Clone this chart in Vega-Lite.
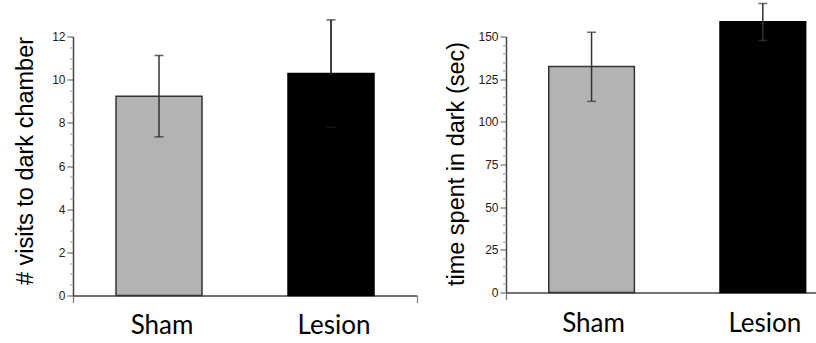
{
  "$schema": "https://vega.github.io/schema/vega-lite/v6.json",
  "background": "white",
  "padding": {"left": 12, "top": 2.5, "right": 0, "bottom": 0},
  "config": {"view": {"stroke": null}},
  "spacing": 25,
  "datasets": {
    "visits": [
      {"group": "Sham", "mean": 9.23, "lo": 7.35, "hi": 11.12},
      {"group": "Lesion", "mean": 10.28, "lo": 7.79, "hi": 12.77}
    ],
    "time": [
      {"group": "Sham", "mean": 132.4, "lo": 112.0, "hi": 152.5},
      {"group": "Lesion", "mean": 158.6, "lo": 147.6, "hi": 169.3}
    ]
  },
  "hconcat": [
    {
      "data": {"name": "visits"},
      "width": 344,
      "height": 259,
      "resolve": {"scale": {"x": "independent"}, "axis": {"y": "independent"}},
      "layer": [
        {
          "encoding": {
            "x": {
              "field": "group", "type": "nominal", "sort": ["Sham", "Lesion"],
              "scale": {"paddingInner": 0.5, "paddingOuter": 0.25, "align": 0.5},
              "axis": {"orient": "bottom", "title": null, "ticks": false, "tickSize": 0, "domainColor": "#444", "domainWidth": 1.5,
                       "labelFont": "Lato", "labelFontSize": 26, "labelColor": "#000", "labelAngle": 0,
                       "labelBaseline": "alphabetic", "labelPadding": 38, "labelOffset": 3}
            }
          },
          "layer": [
            {
              "mark": {"type": "bar", "strokeWidth": 1.5},
              "encoding": {
                "y": {
                  "field": "mean", "type": "quantitative",
                  "scale": {"domain": [0, 12], "nice": false},
                  "axis": {"orient": "left", "values": [0, 2, 4, 6, 8, 10, 12], "tickSize": 6, "tickColor": "#555", "tickWidth": 1,
                           "domainColor": "#444", "domainWidth": 1.5, "grid": false,
                           "labelFont": "Liberation Sans", "labelFontSize": 12, "labelColor": "#222", "labelPadding": 2,
                           "title": "# visits to dark chamber", "titleFont": "Liberation Sans", "titleFontSize": 23.5,
                           "titleFontWeight": "normal", "titleColor": "#000", "titleX": -41, "titleY": 124,
                           "titleBaseline": "alphabetic", "titleAlign": "center"}
                },
                "color": {"field": "group", "type": "nominal", "scale": {"domain": ["Sham", "Lesion"], "range": ["#b3b3b3", "#000000"]}, "legend": null},
                "stroke": {"field": "group", "type": "nominal", "scale": {"domain": ["Sham", "Lesion"], "range": ["#333333", "#000000"]}, "legend": null}
              }
            },
            {
              "mark": {"type": "rule", "strokeWidth": 1.5},
              "encoding": {
                "y": {"field": "lo", "type": "quantitative"}, "y2": {"field": "hi"},
                "stroke": {"field": "group", "type": "nominal", "legend": null}
              }
            },
            {
              "mark": {"type": "tick", "color": "#222", "thickness": 1.5, "size": 9},
              "encoding": {"y": {"field": "hi", "type": "quantitative"}}
            },
            {
              "mark": {"type": "tick", "color": "#222", "thickness": 1.5, "size": 9},
              "encoding": {"y": {"field": "lo", "type": "quantitative"}}
            }
          ]
        },
        {
          "mark": {"type": "point", "opacity": 0},
          "encoding": {
            "x": {"datum": 0.5, "type": "quantitative", "scale": {"domain": [0, 1], "nice": false, "zero": false},
                  "axis": {"orient": "bottom", "values": [0, 1], "tickSize": 7, "tickColor": "#777", "tickWidth": 1.2, "domain": false, "labels": false, "grid": false, "title": null}},
            "y": {"field": "mean", "type": "quantitative",
                  "axis": {"orient": "left", "values": [0.5, 1, 1.5, 2.5, 3, 3.5, 4.5, 5, 5.5, 6.5, 7, 7.5, 8.5, 9, 9.5, 10.5, 11, 11.5],
                           "tickSize": 3.5, "tickColor": "#999", "tickWidth": 1, "domain": false, "labels": false, "grid": false, "title": null}}
          }
        }
      ]
    },
    {
      "data": {"name": "time"},
      "width": 311,
      "height": 256,
      "resolve": {"scale": {"x": "independent"}, "axis": {"y": "independent"}},
      "layer": [
        {
          "encoding": {
            "x": {
              "field": "group", "type": "nominal", "sort": ["Sham", "Lesion"],
              "scale": {"paddingInner": 0.5, "paddingOuter": 0.158, "align": 0.79},
              "axis": {"orient": "bottom", "title": null, "ticks": false, "tickSize": 0, "domainColor": "#444", "domainWidth": 1.5,
                       "labelFont": "Lato", "labelFontSize": 26, "labelColor": "#000", "labelAngle": 0,
                       "labelBaseline": "alphabetic", "labelPadding": 39, "labelOffset": 2}
            }
          },
          "layer": [
            {
              "mark": {"type": "bar", "strokeWidth": 1.5},
              "encoding": {
                "y": {
                  "field": "mean", "type": "quantitative",
                  "scale": {"domain": [0, 150], "nice": false},
                  "axis": {"orient": "left", "values": [0, 25, 50, 75, 100, 125, 150], "tickSize": 6, "tickColor": "#555", "tickWidth": 1,
                           "domainColor": "#444", "domainWidth": 1.5, "grid": false,
                           "labelFont": "Liberation Sans", "labelFontSize": 12, "labelColor": "#222", "labelPadding": 2,
                           "title": "time spent in dark (sec)", "titleFont": "Liberation Sans", "titleFontSize": 23.5,
                           "titleFontWeight": "normal", "titleColor": "#000", "titleX": -43, "titleY": 127,
                           "titleBaseline": "alphabetic", "titleAlign": "center"}
                },
                "color": {"field": "group", "type": "nominal", "scale": {"domain": ["Sham", "Lesion"], "range": ["#b3b3b3", "#000000"]}, "legend": null},
                "stroke": {"field": "group", "type": "nominal", "scale": {"domain": ["Sham", "Lesion"], "range": ["#3a3a3a", "#000000"]}, "legend": null}
              }
            },
            {
              "mark": {"type": "rule", "color": "#333", "strokeWidth": 1.5},
              "encoding": {"y": {"field": "lo", "type": "quantitative"}, "y2": {"field": "hi"}}
            },
            {
              "mark": {"type": "tick", "color": "#333", "thickness": 1.5, "size": 9},
              "encoding": {"y": {"field": "hi", "type": "quantitative"}}
            },
            {
              "mark": {"type": "tick", "color": "#333", "thickness": 1.5, "size": 9},
              "encoding": {"y": {"field": "lo", "type": "quantitative"}}
            }
          ]
        },
        {
          "mark": {"type": "point", "opacity": 0},
          "encoding": {
            "x": {"datum": 0.5, "type": "quantitative", "scale": {"domain": [0, 1], "nice": false, "zero": false},
                  "axis": {"orient": "bottom", "values": [0], "tickSize": 7, "tickColor": "#777", "tickWidth": 1.2, "domain": false, "labels": false, "grid": false, "title": null}},
            "y": {"field": "mean", "type": "quantitative",
                  "axis": {"orient": "left", "values": [5, 10, 15, 20, 30, 35, 40, 45, 55, 60, 65, 70, 80, 85, 90, 95, 105, 110, 115, 120, 130, 135, 140, 145],
                           "tickSize": 3.5, "tickColor": "#999", "tickWidth": 1, "domain": false, "labels": false, "grid": false, "title": null}}
          }
        }
      ]
    }
  ]
}
